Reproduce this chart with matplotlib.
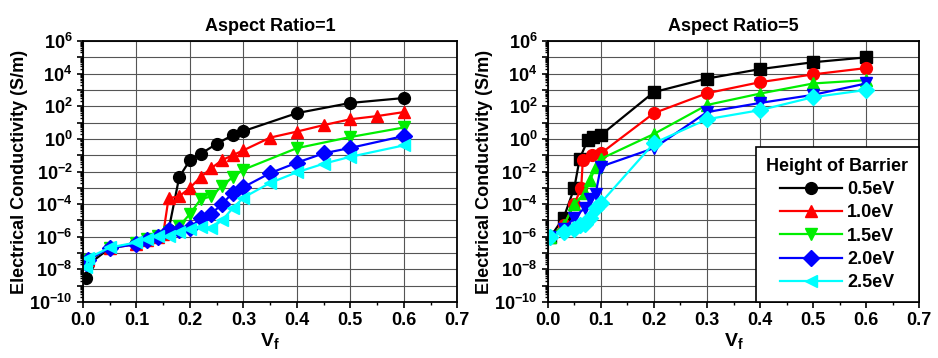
import math
import matplotlib
matplotlib.use('Agg')
import matplotlib.pyplot as plt
from matplotlib.ticker import FuncFormatter, LogLocator, MultipleLocator, NullFormatter

plt.rcParams['font.family'] = ['Liberation Sans', 'DejaVu Sans']
plt.rcParams['font.weight'] = 'bold'
plt.rcParams['mathtext.fontset'] = 'custom'
plt.rcParams['mathtext.rm'] = 'Liberation Sans:bold'
plt.rcParams['mathtext.bf'] = 'Liberation Sans:bold'
plt.rcParams['mathtext.it'] = 'Liberation Sans:bold'

labels = ['0.5eV', '1.0eV', '1.5eV', '2.0eV', '2.5eV']
colors = ['black', 'red', '#00ee00', 'blue', 'cyan']

# Aspect Ratio = 1
left_markers = ['o', '^', 'v', 'D', '<']
x1_05 = [0.005, 0.01, 0.05, 0.1, 0.12, 0.14, 0.16, 0.18, 0.2, 0.22, 0.25, 0.28, 0.3, 0.4, 0.5, 0.6]
y1_05 = [3e-9, 2e-8, 2e-7, 4e-7, 7e-7, 1.1e-6, 2.5e-6, 4.6e-3, 0.05, 0.12, 0.5, 1.7, 3, 38, 160, 320]
x1_10 = [0.005, 0.01, 0.05, 0.1, 0.12, 0.14, 0.15, 0.16, 0.18, 0.2, 0.22, 0.24, 0.26, 0.28, 0.3,
         0.35, 0.4, 0.45, 0.5, 0.55, 0.6]
y1_10 = [3e-8, 4e-8, 2e-7, 3.5e-7, 6e-7, 1e-6, 1.5e-6, 2.3e-4, 3e-4, 1e-3, 4.6e-3, 0.016, 0.05, 0.1, 0.2,
         1.2, 2.8, 7, 16, 25, 44]
x1_15 = [0.005, 0.01, 0.05, 0.1, 0.12, 0.14, 0.16, 0.18, 0.2, 0.22, 0.24, 0.26, 0.28, 0.3, 0.4, 0.5, 0.6]
y1_15 = [2e-8, 4e-8, 2e-7, 4e-7, 7e-7, 1.1e-6, 2e-6, 4.5e-6, 2.5e-5, 2e-4, 3e-4, 1.3e-3, 4.5e-3, 0.013,
         0.27, 1.3, 5]
x1_20 = [0.005, 0.01, 0.05, 0.1, 0.12, 0.14, 0.16, 0.18, 0.2, 0.22, 0.24, 0.26, 0.28, 0.3, 0.35, 0.4,
         0.45, 0.5, 0.6]
y1_20 = [2.5e-8, 4e-8, 2e-7, 3.5e-7, 6e-7, 1e-6, 2.5e-6, 2.5e-6, 3.5e-6, 1.4e-5, 2.6e-5, 1e-4, 5e-4,
         1.1e-3, 8e-3, 0.035, 0.13, 0.28, 1.5]
x1_25 = [0.005, 0.01, 0.05, 0.1, 0.12, 0.14, 0.16, 0.18, 0.2, 0.22, 0.24, 0.26, 0.28, 0.3, 0.35, 0.4,
         0.45, 0.5, 0.6]
y1_25 = [1.5e-8, 5e-8, 2.2e-7, 4.5e-7, 7.5e-7, 1.1e-6, 1.1e-6, 2e-6, 3e-6, 4e-6, 3.5e-6, 1e-5, 5.6e-5,
         2.5e-4, 2e-3, 9e-3, 0.03, 0.08, 0.4]

# Aspect Ratio = 5
right_markers = ['s', 'o', '^', 'v', 'D']
x5_05 = [0.005, 0.03, 0.05, 0.06, 0.075, 0.085, 0.1, 0.2, 0.3, 0.4, 0.5, 0.6]
y5_05 = [1e-6, 1.5e-5, 1e-3, 0.06, 0.8, 1.3, 1.7, 740, 5000, 19000, 50000, 1e5]
x5_10 = [0.005, 0.03, 0.05, 0.063, 0.066, 0.083, 0.1, 0.2, 0.3, 0.4, 0.5, 0.6]
y5_10 = [1e-6, 5e-6, 1e-4, 1e-3, 0.05, 0.1, 0.13, 38, 630, 3000, 9000, 22000]
x5_15 = [0.005, 0.03, 0.05, 0.07, 0.08, 0.09, 0.1, 0.2, 0.3, 0.4, 0.5, 0.6]
y5_15 = [1e-6, 5e-6, 1e-4, 5e-4, 3e-3, 0.02, 0.06, 2, 120, 600, 2500, 4000]
x5_20 = [0.005, 0.03, 0.05, 0.07, 0.08, 0.09, 0.1, 0.2, 0.3, 0.4, 0.5, 0.6]
y5_20 = [1e-6, 3e-6, 1.5e-5, 6e-5, 2e-4, 4e-4, 0.02, 0.27, 44, 160, 500, 2500]
x5_25 = [0.005, 0.03, 0.05, 0.06, 0.07, 0.08, 0.09, 0.1, 0.2, 0.3, 0.4, 0.5, 0.6]
y5_25 = [1e-6, 2e-6, 3e-6, 5e-6, 6e-6, 1.5e-5, 6e-5, 1.2e-4, 0.55, 16, 58, 360, 1000]

left_series = [(x1_05, y1_05), (x1_10, y1_10), (x1_15, y1_15), (x1_20, y1_20), (x1_25, y1_25)]
right_series = [(x5_05, y5_05), (x5_10, y5_10), (x5_15, y5_15), (x5_20, y5_20), (x5_25, y5_25)]

fig = plt.figure(figsize=(9.38, 3.58), dpi=100)
ax1 = fig.add_axes([0.0885, 0.1564, 0.399, 0.729])
ax2 = fig.add_axes([0.584, 0.1564, 0.396, 0.729])


def decade_label(v, pos):
    e = round(math.log10(v))
    if e % 2:
        return ''
    return r'$\mathbf{10^{%d}}$' % e


def style_axis(ax, title):
    ax.set_yscale('log')
    ax.set_xlim(0, 0.7)
    ax.set_ylim(1e-10, 1e6)
    ax.xaxis.set_major_locator(MultipleLocator(0.1))
    ax.xaxis.set_minor_locator(MultipleLocator(0.05))
    ax.xaxis.set_major_formatter(FuncFormatter(lambda v, p: '%.1f' % v))
    ax.yaxis.set_major_locator(LogLocator(base=10, numticks=20))
    ax.yaxis.set_major_formatter(FuncFormatter(decade_label))
    ax.yaxis.set_minor_locator(LogLocator(base=10, subs=range(2, 10), numticks=20))
    ax.yaxis.set_minor_formatter(NullFormatter())
    ax.grid(True, which='major', color='#555555', linewidth=0.8)
    ax.tick_params(which='major', direction='out', length=4, width=1.2, labelsize=13)
    ax.tick_params(which='minor', direction='out', length=2.5, width=1.0)
    for s in ax.spines.values():
        s.set_linewidth(1.3)
    ax.set_title(title, fontsize=13, fontweight='bold', pad=7)
    ax.set_xlabel(r'$\mathbf{V_f}$', fontsize=14, labelpad=1)
    ax.set_ylabel('Electrical Conductivity (S/m)', fontsize=13, fontweight='bold', labelpad=1)


handles = []
for (x, y), m, c, lab in zip(left_series, left_markers, colors, labels):
    h, = ax1.plot(x, y, color=c, marker=m, markersize=8.5, linewidth=1.6, label=lab)
    handles.append(h)

for (x, y), m, c, lab in zip(right_series, right_markers, colors, labels):
    ax2.plot(x, y, color=c, marker=m, markersize=8.5, linewidth=1.6, label=lab)

style_axis(ax1, 'Aspect Ratio=1')
style_axis(ax2, 'Aspect Ratio=5')

leg = ax2.legend(handles=handles, title='Height of Barrier', loc='lower right',
                 borderaxespad=0, fancybox=False, edgecolor='black', framealpha=1,
                 prop={'size': 13, 'weight': 'bold'}, handlelength=3.4, handletextpad=0.3,
                 labelspacing=0.35, borderpad=0.6)
leg.get_title().set_fontsize(13)
leg.get_title().set_fontweight('bold')
leg.get_frame().set_linewidth(1.2)

fig.savefig('out.png', dpi=100)
